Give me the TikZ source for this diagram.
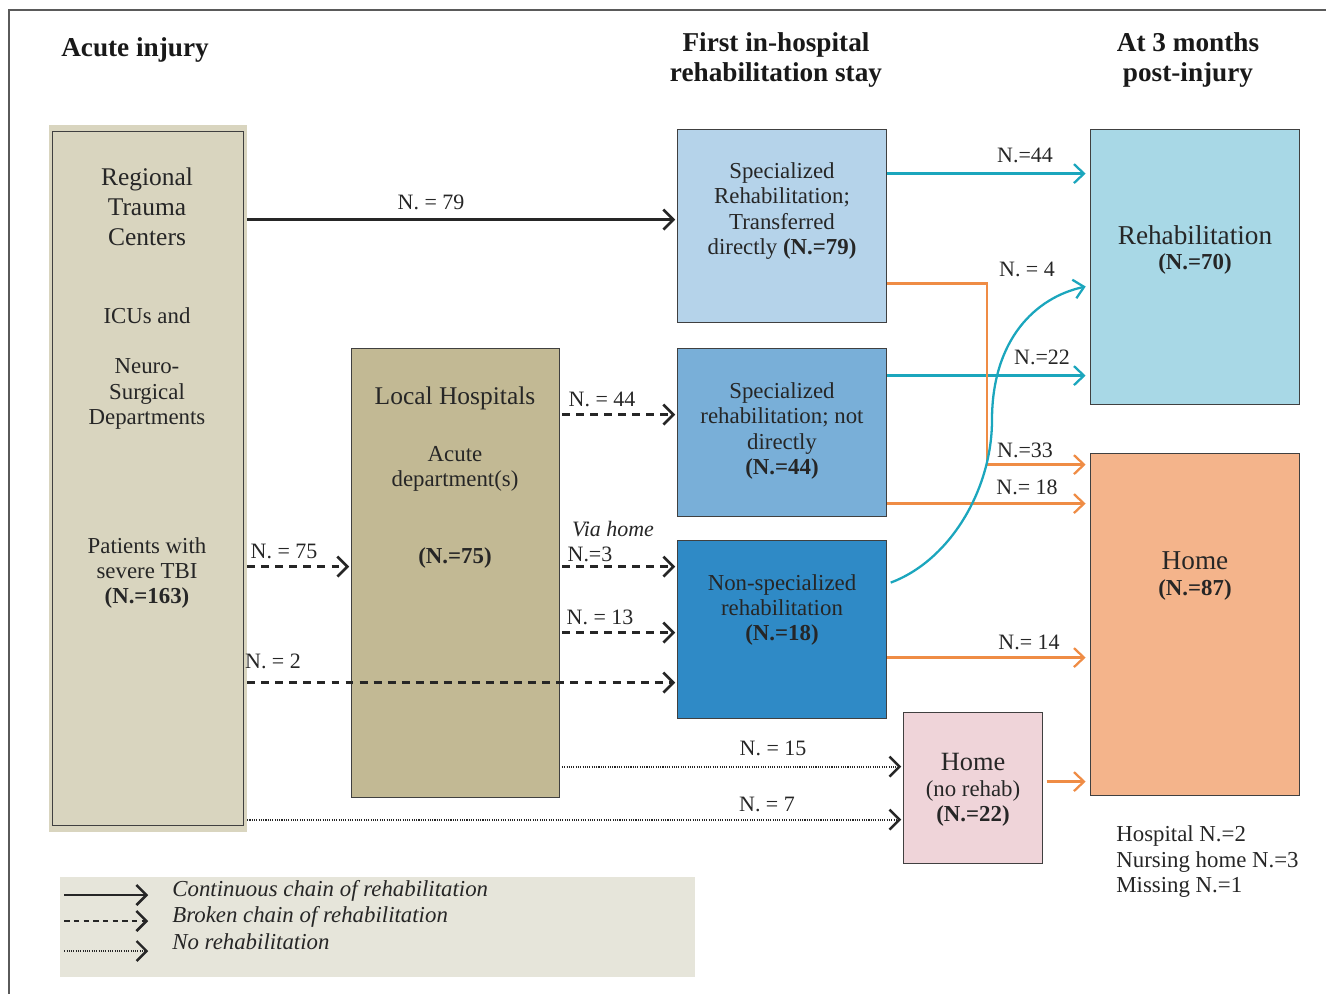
\documentclass[tikz,border=0pt]{standalone}
\usepackage{fontspec}
\setmainfont{Liberation Serif}
\usepackage{tikz}
\usetikzlibrary{arrows.meta,positioning,calc}
\usepackage{xcolor}
\definecolor{framegray}{HTML}{5A5A5A}
\definecolor{regfill}{HTML}{D9D5BF}
\definecolor{locfill}{HTML}{C2B994}
\definecolor{sdfill}{HTML}{B5D3EA}
\definecolor{sndfill}{HTML}{79AFD8}
\definecolor{nsfill}{HTML}{2F8AC6}
\definecolor{hnrfill}{HTML}{EFD4D9}
\definecolor{rehabfill}{HTML}{A8D8E6}
\definecolor{homefill}{HTML}{F4B48B}
\definecolor{legfill}{HTML}{E6E5DA}
\definecolor{tealline}{HTML}{1BA6BD}
\definecolor{orangeline}{HTML}{EF8C45}
\tikzset{
  box/.style={draw=black!75, line width=0.7pt, anchor=north west, inner sep=0pt},
  txt/.style={font=\fontsize{13}{14.5}\selectfont, align=center, inner sep=0pt, text=black!85},
  bigtxt/.style={font=\fontsize{14.5}{17}\selectfont, align=center, inner sep=0pt, text=black!85},
  headtxt/.style={font=\fontsize{15.5}{17.5}\selectfont\bfseries, align=center, inner sep=0pt, text=black!90},
  lbl/.style={font=\fontsize{12.5}{14}\selectfont, inner sep=0pt, text=black!85},
  legtxt/.style={font=\fontsize{13}{14.5}\selectfont\itshape, anchor=west, inner sep=0pt, text=black!85},
  solidarr/.style={-{Straight Barb[length=2mm,width=4mm]}, line width=1.5pt, draw=black!85, shorten >=1pt},
  dasharr/.style={solidarr, dash pattern=on 4.5pt off 3.5pt},
  dotarr/.style={-{Straight Barb[length=2mm,width=4mm,line width=1.4pt]}, line width=1.2pt, draw=black!85, dash pattern=on 0.6pt off 0.7pt, shorten >=1pt},
  tealarr/.style={-{Straight Barb[length=2mm,width=3.8mm]}, line width=1.3pt, draw=tealline, shorten >=2.5pt},
  orangearr/.style={-{Straight Barb[length=2mm,width=3.8mm]}, line width=1.3pt, draw=orangeline, shorten >=2.5pt}
}
\begin{document}
\begin{tikzpicture}[x=0.02cm, y=-0.02cm]
\useasboundingbox (0,0) rectangle (1326,994);
\draw[framegray, line width=0.9pt] (9,994) |- (1326,10);

% column heads
\node[headtxt] (hai) at (135,50) {Acute injury};
\node[headtxt] (hfh) at (776,60) {First in-hospital\\rehabilitation stay};
\node[headtxt] (h3m) at (1188,60) {At 3 months\\post-injury};

% boxes
\node[box, draw=none, fill=regfill, minimum width=3.96cm, minimum height=14.16cm] (reg) at (48,124) {};
\node[box, minimum width=3.82cm, minimum height=13.88cm] (regin) at (52,131) {};
\node[box, fill=locfill, minimum width=4.16cm, minimum height=8.98cm] (loc) at (351,348) {};
\node[box, fill=sdfill, minimum width=4.18cm, minimum height=3.86cm] (sd) at (677,129) {};
\node[box, fill=sndfill, minimum width=4.18cm, minimum height=3.36cm] (snd) at (677,348) {};
\node[box, fill=nsfill, minimum width=4.18cm, minimum height=3.56cm] (ns) at (677,540) {};
\node[box, fill=hnrfill, minimum width=2.78cm, minimum height=3.02cm] (hnr) at (903,712) {};
\node[box, fill=rehabfill, minimum width=4.18cm, minimum height=5.5cm] (rehab) at (1090,129) {};
\node[box, fill=homefill, minimum width=4.18cm, minimum height=6.84cm] (home) at (1090,453) {};
\node[box, draw=none, fill=legfill, minimum width=12.72cm, minimum height=2cm] (leg) at (59,876) {};

% box texts
\node[bigtxt] (rtc) at (147,207) {Regional\\Trauma\\Centers};
\node[txt] (icu) at (147,316) {ICUs and};
\node[txt] (neuro) at (147,394) {Neuro-\\Surgical\\Departments};
\node[txt] (pat) at (147,573) {Patients with\\severe TBI\\\textbf{(N.=163)}};
\node[bigtxt] (lht) at (455,398) {Local Hospitals};
\node[txt] (acute) at (455,469) {Acute\\department(s)};
\node[txt] (n75b) at (455,558) {\textbf{(N.=75)}};
\node[txt] (sdt) at (782,211) {Specialized\\Rehabilitation;\\Transferred\\directly \textbf{(N.=79)}};
\node[txt] (sndt) at (782,431) {Specialized\\rehabilitation; not\\directly\\\textbf{(N.=44)}};
\node[txt] (nst) at (782,610) {Non-specialized\\rehabilitation\\\textbf{(N.=18)}};
\node[txt] (hnrt) at (973,790) {{\fontsize{15}{17}\selectfont Home}\\(no rehab)\\\textbf{(N.=22)}};
\node[txt] (rehabt) at (1195,250) {{\fontsize{15.5}{17}\selectfont Rehabilitation}\\\textbf{(N.=70)}};
\node[txt] (homet) at (1195,576) {{\fontsize{15.5}{17}\selectfont Home}\\\textbf{(N.=87)}};
\node[txt, align=left, anchor=west] (other) at (1116,862) {Hospital N.=2\\Nursing home N.=3\\Missing N.=1};

% acute -> first stay
\draw[solidarr] ([yshift=0.13cm]sd.west -| reg.east) -- ([yshift=0.13cm]sd.west);
\draw[dasharr] ([yshift=0.13cm]loc.west -| reg.east) -- ([yshift=0.13cm]loc.west);
\draw[dasharr] ([xshift=1pt, yshift=0.36cm]snd.west -| loc.east) -- ([yshift=0.36cm]snd.west);
\draw[dasharr] ([xshift=1pt, yshift=1.26cm]ns.west -| loc.east) -- ([yshift=1.26cm]ns.west);
\draw[dasharr] ([xshift=1pt, yshift=-0.06cm]ns.west -| loc.east) -- ([yshift=-0.06cm]ns.west);
\draw[dasharr] ([yshift=-1.06cm]ns.west -| reg.east) -- ([yshift=-1.06cm]ns.west);
\draw[dotarr] ([xshift=1pt, yshift=0.43cm]hnr.west -| loc.east) -- ([yshift=0.43cm]hnr.west);
\draw[dotarr] ([yshift=-0.63cm]hnr.west -| reg.east) -- ([yshift=-0.63cm]hnr.west);

% first stay -> 3 months
\draw[tealarr] ([yshift=1.05cm]sd.east) -- ([yshift=1.05cm]sd.east -| rehab.west);
\draw[tealarr] ([yshift=1.14cm]snd.east) -- ([yshift=1.14cm]snd.east -| rehab.west);
\draw[orangearr] ([yshift=-1.15cm]sd.east) -- ++(2cm,0) |- ([yshift=3.2cm]home.west);
\draw[orangearr] ([yshift=-1.42cm]snd.east) -- ([yshift=-1.42cm]snd.east -| home.west);
\coordinate (bend) at (992,420);
\draw[tealarr] ([xshift=2pt, yshift=0.94cm]ns.east) .. controls +(59,-22) and +(0,70) .. (bend)
  .. controls +(0,-80) and +(-55,12) .. ([yshift=-0.37cm]rehab.west);
\draw[orangearr] ([yshift=-0.56cm]ns.east) -- ([yshift=-0.56cm]ns.east -| home.west);
\draw[orangearr] ([xshift=2pt, yshift=0.13cm]hnr.east) -- ([yshift=0.13cm]hnr.east -| home.west);

% arrow labels
\node[lbl] (l79) at (431,202) {N. = 79};
\node[lbl] (l44a) at (602,399) {N. = 44};
\node[lbl] (l75) at (284,551) {N. = 75};
\node[lbl, font=\fontsize{12.5}{14}\selectfont\itshape] (lvia) at (613,529) {Via home};
\node[lbl] (l3) at (590,554) {N.=3};
\node[lbl] (l13) at (600,617) {N. = 13};
\node[lbl] (l2) at (273,661) {N. = 2};
\node[lbl] (l15) at (773,748) {N. = 15};
\node[lbl] (l7) at (767,804) {N. = 7};
\node[lbl] (l44b) at (1025,155) {N.=44};
\node[lbl] (l4) at (1027,269) {N. = 4};
\node[lbl] (l22) at (1042,357) {N.=22};
\node[lbl] (l33) at (1025,450) {N.=33};
\node[lbl] (l18) at (1027,487) {N.= 18};
\node[lbl] (l14) at (1029,642) {N.= 14};

% legend
\node[legtxt] (lt1) at (172,891) {Continuous chain of rehabilitation};
\node[legtxt] (lt2) at (172,917) {Broken chain of rehabilitation};
\node[legtxt] (lt3) at (172,942) {No rehabilitation};
\draw[solidarr] ([xshift=3pt, yshift=-0.08cm]lt1.west -| leg.west) -- ([xshift=-0.44cm, yshift=-0.08cm]lt1.west);
\draw[dasharr, dash pattern=on 3pt off 2.5pt] ([xshift=3pt, yshift=-0.08cm]lt2.west -| leg.west) -- ([xshift=-0.44cm, yshift=-0.08cm]lt2.west);
\draw[dotarr] ([xshift=3pt, yshift=-0.18cm]lt3.west -| leg.west) -- ([xshift=-0.44cm, yshift=-0.18cm]lt3.west);
\end{tikzpicture}
\end{document}
